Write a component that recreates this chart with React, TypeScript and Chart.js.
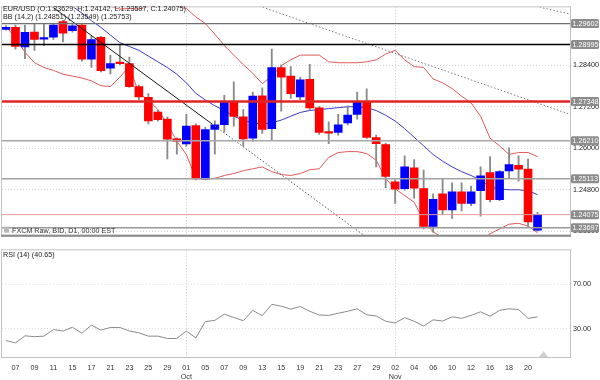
import React, { useEffect, useRef } from "react";
import { Chart, registerables } from "chart.js";

Chart.register(...registerables);

// ---------- data ----------
const DAY_LABELS = [
  "04",
  "07", "08", "09", "10", "11",
  "14", "15", "16", "17", "18",
  "21", "22", "23", "24", "25",
  "28", "29", "30", "01", "02",
  "05", "06", "07", "08", "09",
  "12", "13", "14", "15", "16",
  "19", "20", "21", "22", "23",
  "26", "27", "28", "29", "30",
  "02", "03", "04", "05", "06",
  "09", "10", "11", "12", "13",
  "16", "17", "18", "19", "20",
  "23",
];
const MONTH_START_INDEX = [19, 41];
const MONTH_NAMES = ["Oct", "Nov"];

const OPEN = [
  1.29436, 1.29491, 1.2893, 1.29353, 1.29151, 1.29207, 1.29657, 1.294, 1.29555, 1.28571,
  1.29207, 1.28311, 1.28477, 1.28441, 1.27778, 1.27466, 1.2704, 1.26838, 1.26266, 1.26119,
  1.26653, 1.25105, 1.26542, 1.2668, 1.27344, 1.26902, 1.26285, 1.2751, 1.26562, 1.28331,
  1.28082, 1.27482, 1.27991, 1.27161, 1.2647, 1.26451, 1.26728, 1.26976, 1.27344, 1.26305,
  1.261, 1.25022, 1.24829, 1.25428, 1.24829, 1.23734, 1.24674, 1.24212, 1.24737, 1.24397,
  1.24765, 1.2529, 1.24508, 1.25337, 1.25503, 1.25392, 1.23629,
];
const HIGH = [
  1.29547, 1.29555, 1.29555, 1.29602, 1.29602, 1.29602, 1.29693, 1.29583, 1.29583, 1.29234,
  1.29234, 1.28682, 1.28975, 1.28635, 1.2782, 1.27576, 1.271, 1.269, 1.263, 1.26976,
  1.267, 1.266, 1.26791, 1.27529, 1.27916, 1.27114, 1.2762, 1.27742, 1.28864, 1.28405,
  1.28358, 1.2805, 1.28422, 1.272, 1.26763, 1.26976, 1.27225, 1.2762, 1.27714, 1.26376,
  1.26147, 1.2508, 1.25779, 1.25669, 1.25365, 1.24674, 1.25105, 1.24994, 1.24994, 1.24903,
  1.25456, 1.25752, 1.2535, 1.26009, 1.25779, 1.25685, 1.24142,
];
const LOW = [
  1.29409, 1.28864, 1.28588, 1.28828, 1.28966, 1.2914, 1.29069, 1.29353, 1.28516, 1.28331,
  1.282, 1.28145, 1.28405, 1.27758, 1.274, 1.267, 1.2678, 1.25685, 1.25824, 1.2605,
  1.2508, 1.2508, 1.25824, 1.2647, 1.26636, 1.26056, 1.26194, 1.26423, 1.26238, 1.27067,
  1.27438, 1.274, 1.271, 1.26396, 1.26128, 1.26376, 1.26672, 1.26838, 1.2628, 1.25456,
  1.24856, 1.24397, 1.2478, 1.24552, 1.2366, 1.23568, 1.24074, 1.23963, 1.24185, 1.24331,
  1.24027, 1.24442, 1.2448, 1.25133, 1.25041, 1.23734, 1.23597,
];
const CLOSE = [
  1.29491, 1.28939, 1.29345, 1.2914, 1.29196, 1.29555, 1.29326, 1.29538, 1.28571, 1.2914,
  1.28239, 1.28441, 1.28441, 1.27778, 1.27482, 1.26785, 1.26819, 1.26258, 1.26194, 1.26636,
  1.25105, 1.26534, 1.26672, 1.27344, 1.26913, 1.26266, 1.27501, 1.26542, 1.28331, 1.28054,
  1.27576, 1.27971, 1.27161, 1.26451, 1.26432, 1.26672, 1.26957, 1.27327, 1.26305, 1.26128,
  1.2518, 1.24812, 1.25456, 1.2484, 1.23734, 1.24516, 1.24212, 1.24737, 1.24397, 1.24737,
  1.25199, 1.24508, 1.25318, 1.2552, 1.25392, 1.23861, 1.24075,
];

const BB_UPPER = [
  1.309, 1.3085, 1.308, 1.3072, 1.3065, 1.3058, 1.305, 1.304, 1.303, 1.3022,
  1.3015, 1.301, 1.3002, 1.3004, 1.3002, 1.301, 1.3016, 1.3013, 1.301, 1.3004,
  1.29796, 1.29602, 1.29298, 1.28966, 1.2869, 1.28414, 1.28165, 1.27861, 1.28082, 1.28386,
  1.28552, 1.2869, 1.2869, 1.2869, 1.28496, 1.28469, 1.28469, 1.28469, 1.28496, 1.28552,
  1.28718, 1.28828, 1.28552, 1.28358, 1.28331, 1.27999, 1.27888, 1.27722, 1.27501, 1.27308,
  1.26921, 1.26285, 1.26064, 1.25815, 1.25871, 1.25871, 1.25753,
];
const BB_MIDDLE = [
  1.315, 1.313, 1.311, 1.309, 1.307, 1.305, 1.303, 1.301, 1.29906, 1.29685,
  1.29491, 1.2927, 1.29049, 1.28939, 1.28828, 1.28662, 1.28496, 1.28331, 1.28137, 1.27888,
  1.27584, 1.27391, 1.27225, 1.27087, 1.26921, 1.2681, 1.26727, 1.267, 1.26727, 1.2681,
  1.26921, 1.27031, 1.27087, 1.27114, 1.27142, 1.2717, 1.27197, 1.27197, 1.2717, 1.27087,
  1.26949, 1.26783, 1.26562, 1.26313, 1.26064, 1.25815, 1.25622, 1.25456, 1.25318, 1.25207,
  1.25069, 1.24876, 1.2482, 1.24793, 1.24793, 1.24765, 1.24655,
];
const BB_LOWER = [
  1.29519, 1.29187, 1.28773, 1.28469, 1.28331, 1.28248, 1.28137, 1.28082, 1.28027, 1.27944,
  1.27805, 1.27778, 1.28054, 1.2836, 1.27584, 1.27391, 1.27114, 1.267, 1.26202, 1.25815,
  1.25124, 1.25097, 1.25124, 1.25207, 1.25263, 1.25346, 1.25401, 1.25456, 1.25318, 1.25235,
  1.25207, 1.25263, 1.25373, 1.25401, 1.25732, 1.25871, 1.25898, 1.25898, 1.25843, 1.25649,
  1.25124, 1.2482, 1.24627, 1.24433, 1.23908, 1.23577, 1.23411, 1.233, 1.23245, 1.23245,
  1.233, 1.23521, 1.2366, 1.23798, 1.23826, 1.23743, 1.2355,
];

const RSI = [
  19.3, 17.2, 23.6, 22.8, 23.3, 29.2, 27.9, 31.3, 26.0, 33.2,
  28.7, 31.1, 31.1, 27.9, 26.3, 23.3, 23.3, 21.2, 21.2, 27.9,
  21.7, 36.4, 37.5, 43.1, 40.1, 37.2, 46.5, 41.7, 51.9, 50.3,
  47.6, 50.0, 45.7, 42.3, 42.0, 43.9, 45.7, 47.9, 42.5, 41.5,
  36.7, 35.1, 39.9, 36.7, 32.4, 38.0, 36.9, 40.7, 39.3, 42.0,
  45.2, 41.2, 46.5, 47.9, 47.3, 39.3, 40.65,
];

const PRICE_TICKS = [1.284, 1.272, 1.26, 1.248, 1.236];
const RSI_TICKS = [70, 30];
const LEVELS = [1.29602, 1.28995, 1.27348, 1.2621, 1.25113, 1.24075, 1.23697];

// trend lines: anchor points (bar index, price)
const TREND1_X = [4, 21.7, 40];
const TREND1_Y = [1.30263, 1.267, 1.23016];
const TREND2_X = [26, 60];
const TREND2_Y = [1.30175, 1.2692];
const TREND3_X = [55.5, 60];
const TREND3_Y = [1.3012, 1.29843];

const HEADER = "EUR/USD (O:1.23629, H:1.24142, L:1.23597, C:1.24075)";
const BB_HEADER = "BB (14,2) (1.24851) (1.23549) (1.25753)";
const FEED_TEXT = "FXCM Raw, BID, D1, 00:00 EST";
const RSI_HEADER = "RSI (14) (40.65)";

// ---------- styles ----------
const FONT = "'Liberation Sans', Arial, sans-serif";
const FS = 7.2;
const LEVEL_STYLE = [
  { color: "#707070", width: 1.3 },
  { color: "#000000", width: 1.5 },
  { color: "#e02424", width: 2.5 },
  { color: "#a8a8a8", width: 1.5 },
  { color: "#a2a2a2", width: 1.5 },
  { color: "#e39a9a", width: 1 },
  { color: "#9a9a9a", width: 1.5 },
];
const X_MIN = -0.42;
const X_MAX = 59.42;

export default function App() {
  const priceRef = useRef<HTMLCanvasElement>(null);
  const rsiRef = useRef<HTMLCanvasElement>(null);

  useEffect(() => {
    Chart.defaults.font.family = FONT;
    const idx = CLOSE.map((_, i) => i);
    const bodyColors = idx.map((i) => (CLOSE[i] >= OPEN[i] ? "#0000ff" : "#ff0000"));
    const pts = (xs: number[], ys: number[]) => xs.map((x, i) => ({ x, y: ys[i] }));

    const monthLines = (chart: any) => {
      const { ctx, chartArea: a, scales } = chart;
      ctx.save();
      ctx.strokeStyle = "#c4c4c4";
      ctx.lineWidth = 1;
      ctx.setLineDash([1, 2]);
      MONTH_START_INDEX.forEach((i) => {
        const x = Math.round(scales.x.getPixelForValue(i)) + 0.5;
        ctx.beginPath();
        ctx.moveTo(x, a.top);
        ctx.lineTo(x, a.bottom);
        ctx.stroke();
      });
      ctx.restore();
    };

    const pricePlugin = {
      id: "pricePanel",
      beforeDatasetsDraw(chart: any) {
        monthLines(chart);
      },
      afterDatasetsDraw(chart: any) {
        const { ctx, chartArea: a, scales } = chart;
        ctx.save();
        LEVELS.forEach((v, k) => {
          const y = scales.y.getPixelForValue(v);
          ctx.strokeStyle = LEVEL_STYLE[k].color;
          ctx.lineWidth = LEVEL_STYLE[k].width;
          ctx.beginPath();
          ctx.moveTo(a.left, y);
          ctx.lineTo(a.right, y);
          ctx.stroke();
        });
        // frame
        ctx.strokeStyle = "#c2c2c2";
        ctx.lineWidth = 1;
        ctx.strokeRect(a.left - 0.5, a.top - 0.5, a.right - a.left + 1, a.bottom - a.top + 1);
        ctx.fillStyle = "#8a8a8a";
        ctx.fillRect(a.left - 1, a.bottom - 1, a.right - a.left + 2, 2);
        // level boxes
        ctx.font = `${FS}px ${FONT}`;
        ctx.textBaseline = "middle";
        ctx.textAlign = "left";
        LEVELS.forEach((v) => {
          const y = scales.y.getPixelForValue(v);
          ctx.fillStyle = "#8c8c8c";
          ctx.beginPath();
          (ctx as any).roundRect
            ? (ctx as any).roundRect(a.right + 1, y - 4.5, 28, 9, 1.5)
            : ctx.rect(a.right + 1, y - 4.5, 28, 9);
          ctx.fill();
          ctx.fillStyle = "#ffffff";
          ctx.fillText(v.toFixed(5), a.right + 2.5, y + 0.5);
        });
        // texts
        ctx.fillStyle = "#1a1a1a";
        ctx.textBaseline = "alphabetic";
        ctx.fillText(HEADER, a.left + 1, 10.5);
        ctx.fillText(BB_HEADER, a.left + 1, 18.5);
        ctx.fillStyle = "#333333";
        ctx.fillText(FEED_TEXT, a.left + 10, a.bottom - 2.5);
        ctx.fillStyle = "#b8b8b8";
        ctx.fillRect(a.left + 2, a.bottom - 9, 5, 6);
        ctx.restore();
      },
    };

    const rsiPlugin = {
      id: "rsiPanel",
      beforeDatasetsDraw(chart: any) {
        monthLines(chart);
      },
      afterDatasetsDraw(chart: any) {
        const { ctx, chartArea: a, scales } = chart;
        ctx.save();
        ctx.strokeStyle = "#c2c2c2";
        ctx.lineWidth = 1;
        ctx.strokeRect(a.left - 0.5, a.top - 0.5, a.right - a.left + 1, a.bottom - a.top + 1);
        ctx.font = `${FS}px ${FONT}`;
        ctx.fillStyle = "#1a1a1a";
        ctx.fillText(RSI_HEADER, a.left + 1, a.top + 7);
        // small marker at the right end
        const x = scales.x.getPixelForValue(CLOSE.length - 1) + 6;
        ctx.fillStyle = "#d0d0d0";
        ctx.beginPath();
        ctx.moveTo(x - 4.5, a.bottom);
        ctx.lineTo(x + 4.5, a.bottom);
        ctx.lineTo(x, a.bottom - 6);
        ctx.closePath();
        ctx.fill();
        ctx.restore();
      },
    };

    const priceChart = new Chart(priceRef.current as HTMLCanvasElement, {
      type: "bar",
      data: {
        datasets: [
          {
            type: "line",
            data: pts(TREND1_X.slice(0, 2), TREND1_Y.slice(0, 2)),
            borderColor: "#1a1a1a",
            borderWidth: 1,
            pointRadius: 0,
            order: 0,
          } as any,
          {
            type: "line",
            data: pts(TREND1_X.slice(1), TREND1_Y.slice(1)),
            borderColor: "#555555",
            borderWidth: 1,
            borderDash: [1.5, 2],
            pointRadius: 0,
            order: 0,
          },
          {
            type: "line",
            data: pts(TREND2_X, TREND2_Y),
            borderColor: "#7a7a7a",
            borderWidth: 1,
            borderDash: [1.5, 2],
            pointRadius: 0,
            order: 0,
          },
          {
            type: "line",
            data: pts(TREND3_X, TREND3_Y),
            borderColor: "#7a7a7a",
            borderWidth: 1,
            borderDash: [1.5, 2],
            pointRadius: 0,
            order: 0,
          },
          {
            type: "bar",
            data: idx.map((i) => ({ x: i, y: [OPEN[i], CLOSE[i]] })),
            backgroundColor: bodyColors,
            borderWidth: 0,
            barThickness: 8,
            minBarLength: 1.5,
            grouped: false,
            order: 1,
          },
          {
            type: "bar",
            data: idx.map((i) => ({ x: i, y: [LOW[i], HIGH[i]] })),
            backgroundColor: "#8a8a8a",
            borderWidth: 0,
            barThickness: 1.2,
            grouped: false,
            order: 2,
          },
          {
            type: "line",
            data: pts(idx, BB_UPPER),
            borderColor: "#e05a5a",
            borderWidth: 1,
            pointRadius: 0,
            order: 3,
          },
          {
            type: "line",
            data: pts(idx, BB_MIDDLE),
            borderColor: "#3a3ac4",
            borderWidth: 1,
            pointRadius: 0,
            order: 3,
          },
          {
            type: "line",
            data: pts(idx, BB_LOWER),
            borderColor: "#e05a5a",
            borderWidth: 1,
            pointRadius: 0,
            order: 3,
          },
        ] as any,
      },
      options: {
        responsive: false,
        animation: false,
        devicePixelRatio: 1,
        events: [],
        layout: { padding: { left: 2, top: 3, right: 0, bottom: 1 } },
        plugins: { legend: { display: false }, tooltip: { enabled: false } },
        scales: {
          x: { type: "linear", min: X_MIN, max: X_MAX, offset: false, display: false },
          y: {
            type: "linear",
            position: "right",
            min: 1.23466,
            max: 1.30072,
            afterBuildTicks: (s: any) => {
              s.ticks = PRICE_TICKS.map((v) => ({ value: v }));
            },
            afterFit: (s: any) => {
              s.width = 30;
            },
            ticks: {
              font: { family: FONT, size: FS },
              color: "#222222",
              padding: 3,
              callback: (v: any) => Number(v).toFixed(5),
            },
            grid: { color: "#d6d6d6", drawTicks: false },
            border: { display: false, dash: [1, 2] },
          },
        },
      } as any,
      plugins: [pricePlugin],
    });

    const rsiChart = new Chart(rsiRef.current as HTMLCanvasElement, {
      type: "line",
      data: {
        datasets: [
          {
            data: pts(idx, RSI),
            borderColor: "#8a8a8a",
            borderWidth: 1,
            pointRadius: 0,
          },
        ],
      },
      options: {
        responsive: false,
        animation: false,
        devicePixelRatio: 1,
        events: [],
        layout: { padding: { left: 2, top: 1, right: 0, bottom: 0 } },
        plugins: { legend: { display: false }, tooltip: { enabled: false } },
        scales: {
          x: {
            type: "linear",
            min: X_MIN,
            max: X_MAX,
            offset: false,
            afterBuildTicks: (s: any) => {
              s.ticks = idx
                .filter((i) => i % 2 === 1 && i < DAY_LABELS.length - 1)
                .map((v) => ({ value: v }));
            },
            afterFit: (s: any) => {
              s.height = 23;
            },
            ticks: {
              autoSkip: false,
              maxRotation: 0,
              minRotation: 0,
              padding: 7,
              font: { family: FONT, size: FS },
              color: "#333333",
              callback: (v: any) => {
                const i = Math.round(Number(v));
                const m = MONTH_START_INDEX.indexOf(i);
                return m >= 0 ? [DAY_LABELS[i], MONTH_NAMES[m]] : DAY_LABELS[i];
              },
            },
            grid: { display: false, drawTicks: false },
            border: { display: false },
          },
          y: {
            type: "linear",
            position: "right",
            min: 4.5,
            max: 100.6,
            afterBuildTicks: (s: any) => {
              s.ticks = RSI_TICKS.map((v) => ({ value: v }));
            },
            afterFit: (s: any) => {
              s.width = 30;
            },
            ticks: {
              font: { family: FONT, size: FS },
              color: "#222222",
              padding: 3,
              callback: (v: any) => Number(v).toFixed(2),
            },
            grid: { color: "#e2e2e2", drawTicks: false },
            border: { display: false, dash: [1, 2] },
          },
        },
      } as any,
      plugins: [rsiPlugin],
    });

    return () => {
      priceChart.destroy();
      rsiChart.destroy();
    };
  }, []);

  return (
    <div
      style={{
        position: "absolute",
        left: 0,
        top: 0,
        width: 600,
        height: 380,
        background: "#ffffff",
      }}
    >
      <canvas
        ref={priceRef}
        width={600}
        height={243}
        style={{ position: "absolute", left: 0, top: 0, width: 600, height: 243 }}
      />
      <canvas
        ref={rsiRef}
        width={600}
        height={137}
        style={{ position: "absolute", left: 0, top: 243, width: 600, height: 137 }}
      />
    </div>
  );
}
